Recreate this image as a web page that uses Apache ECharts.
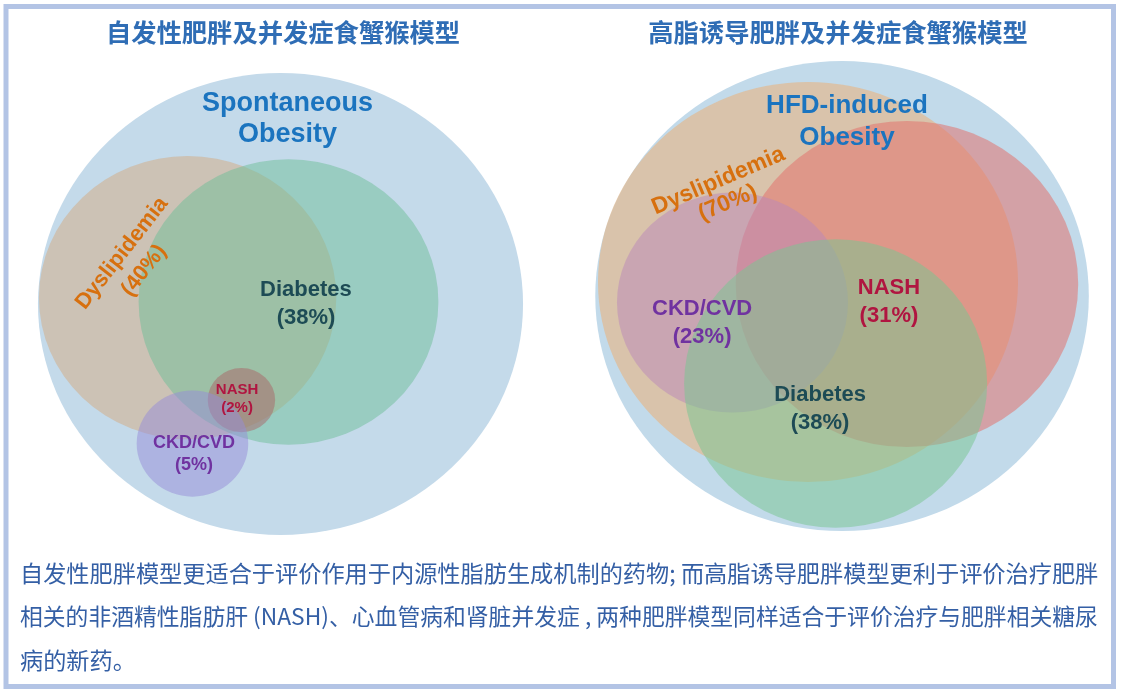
<!DOCTYPE html>
<html><head><meta charset="utf-8">
<script src="https://cdn.jsdelivr.net/npm/echarts@6/dist/echarts.min.js"></script>
<style>html,body{margin:0;padding:0;background:#fff}#c{width:1122px;height:693px}</style>
</head><body><div id="c"></div>
<script>
// ---------- data ----------
const panelTitles = ['自发性肥胖及并发症食蟹猴模型', '高脂诱导肥胖及并发症食蟹猴模型'];

// left panel: spontaneous obesity (draw order)
const leftSets = ['Spontaneous\nObesity', 'Dyslipidemia', 'Diabetes', 'NASH', 'CKD/CVD'];
const leftPct  = ['', '40%', '38%', '2%', '5%'];
const leftCx   = [0, -38.3, 3.3, -16.1, -36.3];
const leftCy   = [0, 2.8, 0.9, -41.6, -60.4];
const leftR    = [100, 61.3, 61.8, 13.9, 23.0];

// right panel: HFD-induced obesity (draw order)
const rightSets = ['HFD-induced\nObesity', 'Dyslipidemia', 'NASH', 'CKD/CVD', 'Diabetes'];
const rightPct  = ['', '70%', '31%', '23%', '38%'];
const rightCx   = [0, -13.8, 26.3, -44.4, -2.6];
const rightCy   = [0, 6.0, 5.1, -2.8, -37.2];
const rightR    = [100, 85.1, 69.4, 46.8, 61.4];

const captionLines = [
  '自发性肥胖模型更适合于评价作用于内源性脂肪生成机制的药物; 而高脂诱导肥胖模型更利于评价治疗肥胖',
  '相关的非酒精性脂肪肝 (NASH)、心血管病和肾脏并发症 , 两种肥胖模型同样适合于评价治疗与肥胖相关糖尿',
  '病的新药。'
];

// ---------- styles / layout ----------
const leftFill  = ['rgb(196,218,234)', 'rgba(212,170,128,0.5)', 'rgba(110,190,152,0.5)', 'rgba(170,90,95,0.45)', 'rgba(150,140,215,0.5)'];
const rightFill = ['rgb(194,218,234)', 'rgba(232,180,128,0.6)', 'rgba(225,115,110,0.55)', 'rgba(185,135,185,0.5)', 'rgba(120,198,145,0.52)'];
const labelColor = {
  Obesity: '#1b74bf', Dyslipidemia: '#d7700f', Diabetes: '#1d4b55', NASH: '#b01540', 'CKD/CVD': '#7032a0'
};
const leftLabelLayout = [
  {x: 2.9, y: 80.1, size: 27, lh: 31, rot: 0},
  {x: -60.8, y: 18.2, size: 22, lh: 28, rot: 52},
  {x: 10.5, y: 0, size: 22, lh: 28, rot: 0},
  {x: -17.9, y: -41.1, size: 15, lh: 18, rot: 0},
  {x: -35.7, y: -64.9, size: 18, lh: 22, rot: 0}
];
const rightLabelLayout = [
  {x: 2.0, y: 74.0, size: 26, lh: 32, rot: 0},
  {x: -48.2, y: 44.3, size: 23, lh: 24, rot: 23},
  {x: 19.0, y: -2.55, size: 22, lh: 28, rot: 0},
  {x: -56.7, y: -11.5, size: 22, lh: 28, rot: 0},
  {x: -8.9, y: -48.1, size: 22, lh: 28, rot: 0}
];
const captionSize = [23.2, 22.8, 23.2];
const LATIN = '"Liberation Sans", Arial, sans-serif';
const CJK = '"Noto Sans CJK SC", sans-serif';

function colorKey(name) { return name.indexOf('Obesity') >= 0 ? 'Obesity' : name; }

function circleRenderer(fills) {
  return function (params, api) {
    const c = api.coord([api.value(0), api.value(1)]);
    const s = api.size([api.value(2), api.value(2)]);
    return {
      type: 'circle', x: c[0], y: c[1], scaleX: s[0] / s[1],
      shape: {cx: 0, cy: 0, r: s[1]},
      style: {fill: fills[api.value(3)]}
    };
  };
}
function labelRenderer(names, pcts, layout) {
  return function (params, api) {
    const i = api.value(2);
    const L = layout[i];
    const c = api.coord([L.x, L.y]);
    const txt = names[i] + (pcts[i] ? '\n(' + pcts[i] + ')' : '');
    return {
      type: 'text', x: c[0], y: c[1], rotation: (L.rot || 0) * Math.PI / 180,
      style: {
        text: txt, fill: labelColor[colorKey(names[i])],
        font: 'bold ' + L.size + 'px ' + LATIN, lineHeight: L.lh,
        align: 'center', verticalAlign: 'middle'
      }
    };
  };
}

const chart = echarts.init(document.getElementById('c'), null, {renderer: 'canvas'});
const axisBase = {type: 'value', min: -110, max: 110, show: false};
const captionY = [573, 616, 660];
chart.setOption({
  animation: false,
  backgroundColor: '#ffffff',
  grid: [
    {left: 13.7, top: 49.9, width: 533.6, height: 508.2},
    {left: 570.6, top: 37.5, width: 542.9, height: 517}
  ],
  xAxis: [Object.assign({gridIndex: 0}, axisBase), Object.assign({gridIndex: 1}, axisBase)],
  yAxis: [Object.assign({gridIndex: 0}, axisBase), Object.assign({gridIndex: 1}, axisBase)],
  series: [
    {type: 'custom', xAxisIndex: 0, yAxisIndex: 0, renderItem: circleRenderer(leftFill),
     data: leftCx.map((x, i) => [x, leftCy[i], leftR[i], i]), silent: true, z: 1},
    {type: 'custom', xAxisIndex: 1, yAxisIndex: 1, renderItem: circleRenderer(rightFill),
     data: rightCx.map((x, i) => [x, rightCy[i], rightR[i], i]), silent: true, z: 1},
    {type: 'custom', xAxisIndex: 0, yAxisIndex: 0, renderItem: labelRenderer(leftSets, leftPct, leftLabelLayout),
     data: leftSets.map((n, i) => [leftCx[i], leftCy[i], i]), silent: true, z: 5},
    {type: 'custom', xAxisIndex: 1, yAxisIndex: 1, renderItem: labelRenderer(rightSets, rightPct, rightLabelLayout),
     data: rightSets.map((n, i) => [rightCx[i], rightCy[i], i]), silent: true, z: 5}
  ],
  graphic: [
    {type: 'rect', shape: {x: 6, y: 6.5, width: 1107.5, height: 680}, style: {fill: 'none', stroke: '#b3c4e5', lineWidth: 5}, z: 10},
    {type: 'text', x: 283, y: 32, style: {text: panelTitles[0], fill: '#2f6db5', font: 'bold 25.3px ' + CJK, align: 'center', verticalAlign: 'middle'}},
    {type: 'text', x: 838, y: 32, style: {text: panelTitles[1], fill: '#2f6db5', font: 'bold 25.3px ' + CJK, align: 'center', verticalAlign: 'middle'}}
  ].concat(captionLines.map((t, i) => ({
    type: 'text', x: 20, y: captionY[i],
    style: {text: t, fill: '#345fa5', font: captionSize[i] + 'px ' + CJK, align: 'left', verticalAlign: 'middle'}
  })))
});
</script>
</body></html>
